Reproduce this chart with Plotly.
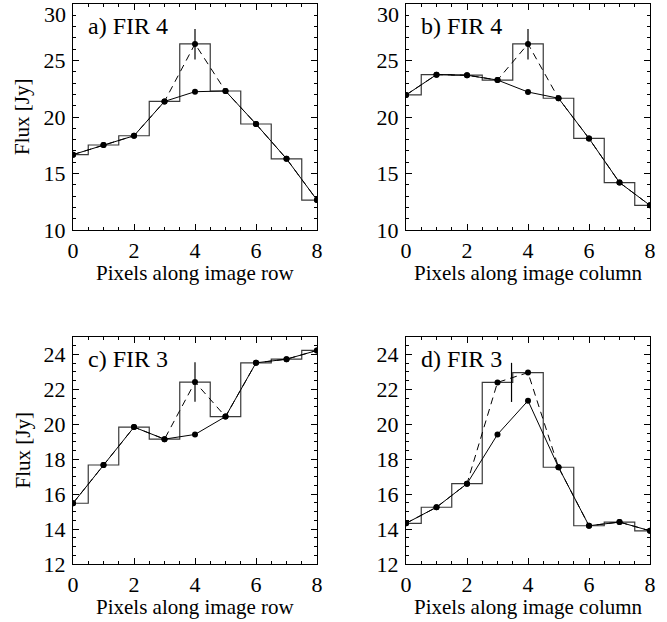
import plotly.graph_objects as go

# ---------------- data ----------------
pixels = [0, 1, 2, 3, 4, 5, 6, 7, 8]

a_raw = [16.67, 17.52, 18.34, 21.38, 26.47, 22.30, 19.38, 16.30, 12.65]
a_corr = [16.67, 17.52, 18.34, 21.38, 22.24, 22.30, 19.38, 16.30, 12.65]

b_raw = [21.95, 23.75, 23.70, 23.27, 26.47, 21.66, 18.10, 14.20, 12.18]
b_corr = [21.95, 23.75, 23.70, 23.27, 22.21, 21.66, 18.10, 14.20, 12.18]

c_raw = [15.48, 17.67, 19.84, 19.15, 22.42, 20.44, 23.52, 23.73, 24.23]
c_corr = [15.48, 17.67, 19.84, 19.15, 19.42, 20.44, 23.52, 23.73, 24.23]

d_raw = [14.33, 15.25, 16.60, 22.40, 22.96, 17.54, 14.19, 14.40, 13.90]
d_corr = [14.33, 15.25, 16.60, 19.42, 21.35, 17.54, 14.19, 14.40, 13.90]

err_x = [4.0, 4.0, 4.0, 3.46]
err_y = [26.44, 26.44, 22.42, 22.40]
err_size = [1.35, 1.35, 1.13, 1.12]

titles = ["a) FIR 4", "b) FIR 4", "c) FIR 3", "d) FIR 3"]
xtitles = ["Pixels along image row", "Pixels along image column",
           "Pixels along image row", "Pixels along image column"]
ytitle = "Flux [Jy]"
yranges = [[10, 30], [10, 30], [12, 25], [12, 25]]
ytickvals = [[10, 15, 20, 25, 30], [10, 15, 20, 25, 30],
             [12, 14, 16, 18, 20, 22, 24], [12, 14, 16, 18, 20, 22, 24]]
xtickvals = [0, 2, 4, 6, 8]

raws = [a_raw, b_raw, c_raw, d_raw]
corrs = [a_corr, b_corr, c_corr, d_corr]

# ---------------- layout geometry ----------------
W, H = 667, 622
FONT = "Liberation Serif"
FS = 21
FS_TICK = 22
FS_LABEL = 24

xdoms = [[73 / W, 317 / W], [406 / W, 650 / W]]
ydoms = [[1 - 230 / H, 1 - 4 / H], [1 - 564 / H, 1 - 337 / H]]

fig = go.Figure()

for i in range(4):
    row, col = divmod(i, 2)
    xa = "x" if i == 0 else f"x{i+1}"
    ya = "y" if i == 0 else f"y{i+1}"
    # histogram (steps)
    fig.add_trace(go.Scatter(x=pixels, y=raws[i], mode="lines",
                             line=dict(color="#3a3a3a", width=1.2, shape="hvh"),
                             xaxis=xa, yaxis=ya, showlegend=False, hoverinfo="skip"))
    # dashed raw profile
    fig.add_trace(go.Scatter(x=pixels, y=raws[i], mode="lines+markers",
                             line=dict(color="black", width=1, dash="7px,5px"),
                             marker=dict(color="black", size=6),
                             xaxis=xa, yaxis=ya, showlegend=False))
    # solid corrected profile
    fig.add_trace(go.Scatter(x=pixels, y=corrs[i], mode="lines+markers",
                             line=dict(color="black", width=1),
                             marker=dict(color="black", size=6),
                             xaxis=xa, yaxis=ya, showlegend=False))
    # error bar
    fig.add_trace(go.Scatter(x=[err_x[i]], y=[err_y[i]], mode="markers",
                             marker=dict(size=1, color="rgba(0,0,0,0)"),
                             error_y=dict(type="data", array=[err_size[i]], visible=True,
                                          width=0, thickness=1.2, color="black"),
                             xaxis=xa, yaxis=ya, showlegend=False))

    axcommon = dict(showline=True, linecolor="black", linewidth=1, mirror="allticks",
                    ticks="inside", ticklen=6, tickwidth=1, tickcolor="black",
                    showgrid=False, zeroline=False, automargin=False,
                    ticklabeloverflow="allow",
                    tickfont=dict(family=FONT, size=FS_TICK, color="black"))
    xkey = "xaxis" if i == 0 else f"xaxis{i+1}"
    ykey = "yaxis" if i == 0 else f"yaxis{i+1}"
    fig.layout[xkey] = dict(domain=xdoms[col], anchor=ya, range=[0, 8],
                            tickvals=xtickvals, ticklabelstandoff=1,
                            minor=dict(dtick=0.5, ticks="inside", ticklen=3,
                                       tickcolor="black", tickwidth=1, showgrid=False),
                            **axcommon)
    # the top label of the upper panels is drawn lowered (as in the original)
    ytext = [str(v) for v in ytickvals[i]]
    if row == 0:
        ytext[-1] = ""
    fig.layout[ykey] = dict(domain=ydoms[row], anchor=xa, range=yranges[i],
                            tickvals=ytickvals[i], ticktext=ytext, ticklabelstandoff=2,
                            minor=dict(dtick=1 if row == 0 else 0.5, ticks="inside",
                                       ticklen=3, tickcolor="black", tickwidth=1,
                                       showgrid=False),
                            **axcommon)
    if row == 0:
        fig.add_annotation(text=str(ytickvals[i][-1]), xref="paper", yref=ya,
                           x=(xdoms[col][0] * W - 6) / W, y=ytickvals[i][-1],
                           yshift=-10, xanchor="right", yanchor="middle",
                           showarrow=False, borderpad=0,
                           font=dict(family=FONT, size=FS_TICK, color="black"))

    # panel label
    fig.add_annotation(text=titles[i], xref="paper", yref="paper",
                       x=(xdoms[col][0] * W + 14) / W,
                       y=ydoms[row][1] - 22 / H,
                       xanchor="left", yanchor="middle", showarrow=False, borderpad=0,
                       font=dict(family=FONT, size=FS_LABEL, color="black"))
    # x axis title
    fig.add_annotation(text=xtitles[i], xref="paper", yref="paper",
                       x=(xdoms[col][0] + xdoms[col][1]) / 2,
                       y=ydoms[row][0] - 43 / H,
                       xanchor="center", yanchor="middle", showarrow=False, borderpad=0,
                       font=dict(family=FONT, size=FS, color="black"))
    if col == 0:
        fig.add_annotation(text=ytitle, xref="paper", yref="paper",
                           x=22 / W, y=(ydoms[row][0] + ydoms[row][1]) / 2,
                           xanchor="center", yanchor="middle", textangle=-90,
                           showarrow=False, borderpad=0,
                           font=dict(family=FONT, size=FS, color="black"))

fig.update_layout(width=W, height=H, margin=dict(l=0, r=0, t=0, b=0),
                  paper_bgcolor="white", plot_bgcolor="white",
                  font=dict(family=FONT, size=FS, color="black"))

fig.write_html("out.html", config={"displayModeBar": False},
               post_script="document.body.style.margin='0';")
